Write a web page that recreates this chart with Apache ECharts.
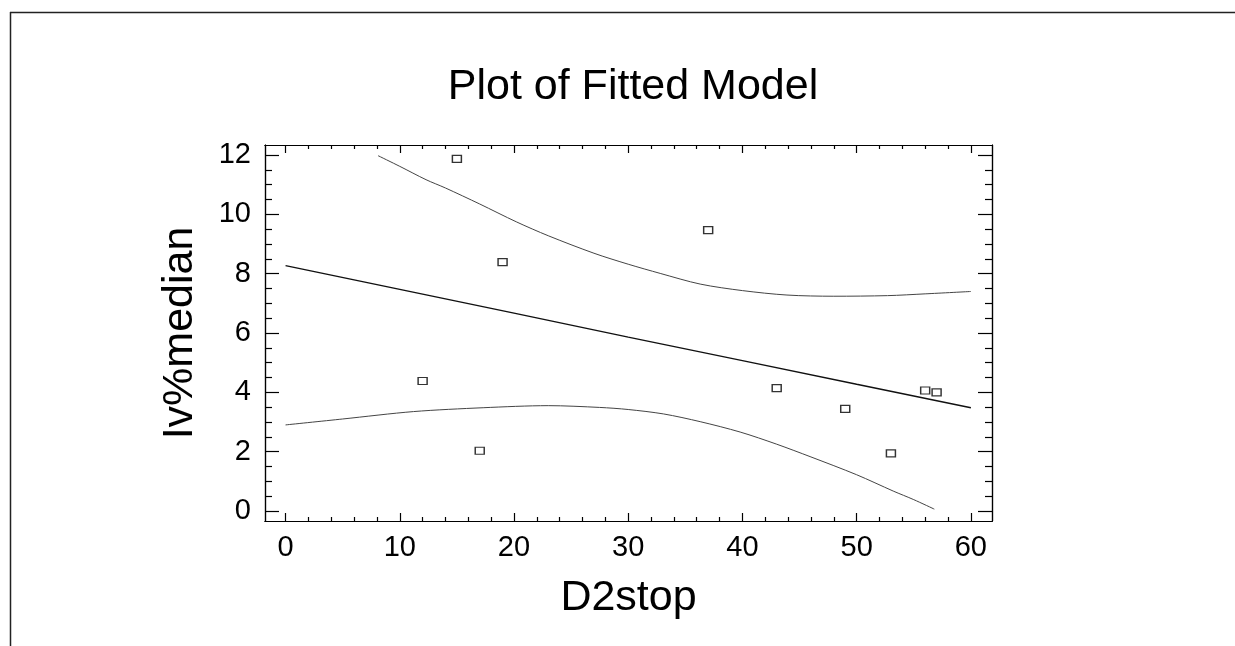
<!DOCTYPE html>
<html>
<head>
<meta charset="utf-8">
<title>Plot of Fitted Model</title>
<script src="https://cdn.jsdelivr.net/npm/echarts@6/dist/echarts.min.js"></script>
<style>
  html, body { margin: 0; padding: 0; background: #fff; }
  #chart { width: 1235px; height: 646px; }
</style>
</head>
<body>
<div id="chart"></div>
<script>
// observed points
const obsX = [12, 15, 17, 19, 37, 43, 49, 53, 56, 57];
const obsY = [4.38, 11.87, 2.03, 8.39, 9.47, 4.14, 3.44, 1.94, 4.06, 4.0];

// fitted line
const fitX = [0, 10, 20, 30, 40, 50, 60];
const fitY = [8.27, 7.47, 6.67, 5.86, 5.07, 4.27, 3.48];

// upper limit curve
const upperX = [8.1, 10, 12.3, 14, 17, 20.2, 23, 27, 30, 32.8, 36.3, 40, 43.9, 48, 52.7, 56, 60];
const upperY = [11.98, 11.62, 11.17, 10.89, 10.35, 9.75, 9.28, 8.69, 8.32, 8.01, 7.65, 7.43, 7.28, 7.24, 7.26, 7.32, 7.4];

// lower limit curve
const lowerX = [0, 5, 11.2, 17.3, 23, 27.5, 30, 33.1, 36.3, 39.8, 43, 46, 50, 53.2, 55, 56.8];
const lowerY = [2.9, 3.1, 3.35, 3.48, 3.55, 3.49, 3.42, 3.27, 3.01, 2.66, 2.25, 1.82, 1.22, 0.67, 0.38, 0.06];

// tick labels
const xMajor = [0, 10, 20, 30, 40, 50, 60];
const xMinor = [2, 4, 6, 8, 12, 14, 16, 18, 22, 24, 26, 28, 32, 34, 36, 38, 42, 44, 46, 48, 52, 54, 56, 58];
const yMajor = [0, 2, 4, 6, 8, 10, 12];
const yMinor = [0.5, 1, 1.5, 2.5, 3, 3.5, 4.5, 5, 5.5, 6.5, 7, 7.5, 8.5, 9, 9.5, 10.5, 11, 11.5];

const font = "'Liberation Sans', Arial, sans-serif";
const pair = (xs, ys) => xs.map((x, i) => [x, ys[i]]);

const xMin = -1.8, xMax = 61.85, yMin = -0.34, yMax = 12.34;

function xAx(pos, ticks, len, withLabel) {
  return {
    type: 'value', position: pos, min: xMin, max: xMax,
    axisLine: { show: true, onZero: false, lineStyle: { color: '#000', width: 1.2 } },
    axisTick: { show: true, inside: true, length: len, customValues: ticks, lineStyle: { color: '#000', width: 1.2 } },
    axisLabel: withLabel
      ? { show: true, customValues: ticks, color: '#000', fontFamily: font, fontSize: 29, margin: 12 }
      : { show: false },
    splitLine: { show: false }
  };
}
function yAx(pos, ticks, len, withLabel) {
  return {
    type: 'value', position: pos, min: yMin, max: yMax,
    axisLine: { show: true, onZero: false, lineStyle: { color: '#000', width: 1.2 } },
    axisTick: { show: true, inside: true, length: len, customValues: ticks, lineStyle: { color: '#000', width: 1.2 } },
    axisLabel: withLabel
      ? { show: true, customValues: ticks, color: '#000', fontFamily: font, fontSize: 29, margin: 14 }
      : { show: false },
    splitLine: { show: false }
  };
}

const xAxes = [xAx('bottom', xMajor, 8, true), xAx('bottom', xMinor, 4, false), xAx('top', xMajor, 8, false), xAx('top', xMinor, 4, false)];
Object.assign(xAxes[0], {
  name: 'D2stop', nameLocation: 'middle', nameGap: 56,
  nameTextStyle: { color: '#000', fontFamily: font, fontSize: 43 }
});
const yAxes = [yAx('left', yMajor, 14, true), yAx('left', yMinor, 7, false), yAx('right', yMajor, 14, false), yAx('right', yMinor, 7, false)];
Object.assign(yAxes[0], {
  name: 'Iv%median', nameLocation: 'middle', nameGap: 63, nameRotate: 90,
  nameTextStyle: { color: '#000', fontFamily: font, fontSize: 43 }
});

const chart = echarts.init(document.getElementById('chart'), null, { renderer: 'canvas' });
chart.setOption({
  backgroundColor: '#fff',
  animation: false,
  title: {
    text: 'Plot of Fitted Model',
    left: 628, top: 61, textAlign: 'center',
    textStyle: { color: '#000', fontFamily: font, fontSize: 43, fontWeight: 'normal' }
  },
  graphic: [
    { type: 'line', shape: { x1: 10, y1: 12.5, x2: 1235, y2: 12.5 }, style: { stroke: '#222', lineWidth: 1.5 } },
    { type: 'line', shape: { x1: 10.5, y1: 12, x2: 10.5, y2: 646 }, style: { stroke: '#222', lineWidth: 1.5 } }
  ],
  grid: { left: 265, top: 145, width: 727, height: 376, containLabel: false },
  xAxis: xAxes,
  yAxis: yAxes,
  series: [
    {
      name: 'upper', type: 'line', data: pair(upperX, upperY), showSymbol: false, smooth: 0.3,
      lineStyle: { color: '#444', width: 1 }
    },
    {
      name: 'lower', type: 'line', data: pair(lowerX, lowerY), showSymbol: false, smooth: 0.3,
      lineStyle: { color: '#444', width: 1 }
    },
    {
      name: 'fit', type: 'line', data: pair(fitX, fitY), showSymbol: false,
      lineStyle: { color: '#111', width: 1.4 }
    },
    {
      name: 'observed', type: 'scatter', data: pair(obsX, obsY),
      symbol: 'rect', symbolSize: [9, 7],
      itemStyle: { color: '#fff', borderColor: '#000', borderWidth: 1.3 }
    }
  ]
});
</script>
</body>
</html>
